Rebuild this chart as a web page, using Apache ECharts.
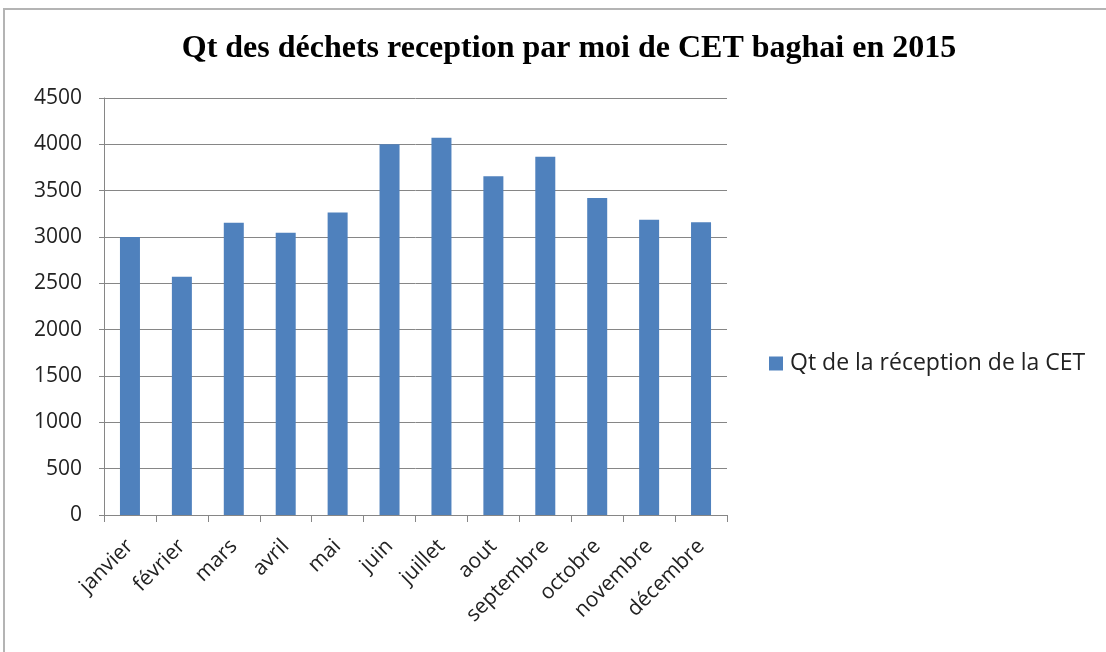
<!DOCTYPE html>
<html>
<head>
<meta charset="utf-8">
<script src="https://cdn.jsdelivr.net/npm/echarts@6/dist/echarts.min.js"></script>
<style>
  html, body { margin: 0; padding: 0; background: #fff; }
  #chart { width: 1106px; height: 652px; }
</style>
</head>
<body>
<div id="chart"></div>
<script>
var months = ['janvier', 'février', 'mars', 'avril', 'mai', 'juin', 'juillet', 'aout', 'septembre', 'octobre', 'novembre', 'décembre']
var quantities = [3000, 2570, 3155, 3045, 3265, 4000, 4070, 3655, 3865, 3420, 3185, 3160]
var seriesName = 'Qt de la réception de la CET'
var titleText = 'Qt des déchets reception par moi de CET baghai en 2015'

var chart = echarts.init(document.getElementById('chart'))
var axisGray = '#868686'

var option = {
  backgroundColor: '#fff',
  animation: false,
  title: {
    text: titleText,
    left: 564,
    top: 28,
    textAlign: 'center',
    textStyle: {
      fontFamily: 'Liberation Serif',
      fontWeight: 'bold',
      fontSize: 32,
      color: '#000'
    }
  },
  graphic: [{
    type: 'polyline',
    shape: { points: [[4, 652], [4, 9], [1106, 9]] },
    style: { stroke: '#b4b4b4', lineWidth: 2, fill: null }
  }],
  legend: {
    orient: 'vertical',
    left: 764,
    top: 347,
    icon: 'rect',
    itemWidth: 14,
    itemHeight: 14,
    itemGap: 6,
    textStyle: { fontFamily: 'Open Sans', fontSize: 23, color: '#222', padding: [0, 0, 0, 2] },
    data: [seriesName]
  },
  grid: { left: 104, right: 379, top: 98, bottom: 137 },
  xAxis: {
    type: 'category',
    data: months,
    axisLine: { lineStyle: { color: axisGray } },
    axisTick: { show: true, alignWithLabel: false, length: 7, lineStyle: { color: axisGray } },
    axisLabel: {
      rotate: 45,
      margin: 28,
      fontFamily: 'Open Sans',
      fontSize: 21,
      color: '#222'
    }
  },
  yAxis: {
    type: 'value',
    min: 0,
    max: 4500,
    interval: 500,
    axisLine: { show: true, lineStyle: { color: axisGray } },
    axisTick: { show: true, length: 5, lineStyle: { color: axisGray } },
    splitLine: { lineStyle: { color: axisGray, width: 1 } },
    axisLabel: {
      margin: 22,
      fontFamily: 'Open Sans',
      fontSize: 21,
      color: '#222',
      formatter: function (v) { return String(v) }
    }
  },
  series: [{
    name: seriesName,
    type: 'bar',
    data: quantities,
    barWidth: 20,
    itemStyle: { color: '#4f81bd' }
  }]
}

chart.setOption(option)
</script>
</body>
</html>
